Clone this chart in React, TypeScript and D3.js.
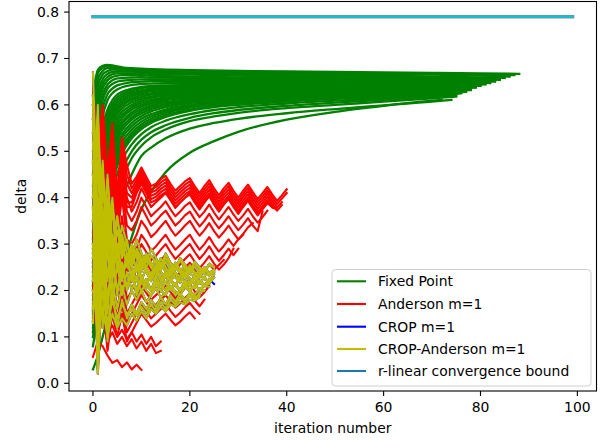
import React from "react";
import * as d3 from "d3";

// ---------- data ----------
const X_TICKS = [0, 20, 40, 60, 80, 100];
const Y_TICKS = [0.0, 0.1, 0.2, 0.3, 0.4, 0.5, 0.6, 0.7, 0.8];

// Fixed point runs: sampled iterations, each run ends at its own last iteration
const GREEN_X = [0, 1, 2, 3, 4, 5, 6, 8, 10, 12, 15, 20, 25, 30, 40, 50, 60, 70, 80, 88];
const GREEN_ENDS = [
  88, 87, 86, 85, 84, 84, 83, 83, 82, 82, 81, 81, 80, 80, 79, 79, 78, 78, 78, 77, 77, 76, 76, 75, 75, 74, 72,
  81, 80, 79, 79, 78, 78, 78, 77, 77, 76,
];
const GREEN_RUNS = [
  [0.62, 0.675, 0.684, 0.686, 0.685, 0.683, 0.681, 0.679, 0.678, 0.677, 0.676, 0.675, 0.674, 0.673, 0.672, 0.671, 0.670, 0.669, 0.668, 0.667],
  [0.60, 0.668, 0.680, 0.683, 0.683, 0.682, 0.680, 0.678, 0.677, 0.676, 0.675, 0.674, 0.673, 0.672, 0.670, 0.669, 0.668, 0.667, 0.666, 0.664],
  [0.57, 0.655, 0.673, 0.679, 0.680, 0.679, 0.678, 0.677, 0.676, 0.675, 0.674, 0.673, 0.672, 0.671, 0.669, 0.668, 0.666, 0.665, 0.663, 0.661],
  [0.54, 0.64, 0.665, 0.673, 0.676, 0.676, 0.676, 0.675, 0.674, 0.673, 0.672, 0.671, 0.670, 0.669, 0.667, 0.665, 0.663, 0.661, 0.659, 0.658],
  [0.50, 0.62, 0.655, 0.667, 0.671, 0.672, 0.672, 0.672, 0.671, 0.670, 0.669, 0.668, 0.667, 0.666, 0.664, 0.662, 0.660, 0.658, 0.656, 0.655],
  [0.475, 0.605, 0.645, 0.660, 0.666, 0.668, 0.668, 0.668, 0.668, 0.667, 0.666, 0.665, 0.664, 0.663, 0.661, 0.659, 0.658, 0.656, 0.655, 0.654],
  [0.45, 0.59, 0.635, 0.653, 0.660, 0.663, 0.664, 0.664, 0.664, 0.663, 0.662, 0.661, 0.660, 0.659, 0.658, 0.656, 0.655, 0.654, 0.653, 0.652],
  [0.425, 0.57, 0.622, 0.644, 0.653, 0.657, 0.658, 0.659, 0.660, 0.659, 0.659, 0.658, 0.657, 0.657, 0.656, 0.654, 0.653, 0.652, 0.651, 0.650],
  [0.40, 0.55, 0.61, 0.635, 0.645, 0.650, 0.652, 0.654, 0.655, 0.655, 0.655, 0.655, 0.654, 0.654, 0.653, 0.652, 0.651, 0.650, 0.649, 0.649],
  [0.375, 0.525, 0.593, 0.623, 0.635, 0.642, 0.645, 0.649, 0.650, 0.651, 0.651, 0.651, 0.651, 0.651, 0.650, 0.650, 0.649, 0.648, 0.648, 0.647],
  [0.35, 0.50, 0.575, 0.61, 0.625, 0.633, 0.638, 0.643, 0.645, 0.646, 0.647, 0.647, 0.647, 0.647, 0.647, 0.647, 0.646, 0.646, 0.646, 0.646],
  [0.325, 0.475, 0.553, 0.59, 0.61, 0.622, 0.628, 0.635, 0.639, 0.641, 0.642, 0.643, 0.644, 0.644, 0.645, 0.645, 0.645, 0.645, 0.645, 0.645],
  [0.30, 0.45, 0.53, 0.57, 0.595, 0.61, 0.618, 0.627, 0.632, 0.635, 0.637, 0.639, 0.640, 0.641, 0.642, 0.642, 0.643, 0.643, 0.643],
  [0.28, 0.425, 0.51, 0.555, 0.583, 0.599, 0.608, 0.619, 0.625, 0.629, 0.632, 0.635, 0.636, 0.638, 0.639, 0.640, 0.641, 0.641, 0.641],
  [0.26, 0.40, 0.49, 0.54, 0.57, 0.587, 0.598, 0.610, 0.617, 0.622, 0.626, 0.630, 0.632, 0.634, 0.636, 0.637, 0.638, 0.639, 0.639],
  [0.24, 0.375, 0.465, 0.52, 0.553, 0.572, 0.585, 0.600, 0.609, 0.615, 0.620, 0.625, 0.628, 0.630, 0.633, 0.634, 0.636, 0.637, 0.637],
  [0.22, 0.35, 0.44, 0.50, 0.535, 0.557, 0.572, 0.590, 0.600, 0.607, 0.613, 0.619, 0.623, 0.626, 0.629, 0.631, 0.633, 0.634, 0.635],
  [0.20, 0.325, 0.415, 0.475, 0.515, 0.541, 0.559, 0.579, 0.591, 0.599, 0.606, 0.613, 0.618, 0.621, 0.625, 0.628, 0.630, 0.632, 0.633],
  [0.18, 0.30, 0.39, 0.45, 0.495, 0.525, 0.545, 0.568, 0.582, 0.591, 0.599, 0.607, 0.612, 0.616, 0.620, 0.624, 0.627, 0.630, 0.632],
  [0.165, 0.28, 0.365, 0.425, 0.472, 0.505, 0.528, 0.554, 0.570, 0.580, 0.590, 0.600, 0.606, 0.611, 0.616, 0.620, 0.624, 0.627, 0.630],
  [0.15, 0.26, 0.34, 0.40, 0.45, 0.485, 0.51, 0.54, 0.558, 0.570, 0.582, 0.594, 0.601, 0.606, 0.612, 0.617, 0.621, 0.625, 0.628],
  [0.135, 0.24, 0.32, 0.38, 0.43, 0.468, 0.495, 0.528, 0.548, 0.561, 0.574, 0.587, 0.595, 0.600, 0.607, 0.613, 0.617, 0.622, 0.626],
  [0.12, 0.22, 0.30, 0.36, 0.41, 0.45, 0.48, 0.515, 0.537, 0.552, 0.566, 0.580, 0.589, 0.595, 0.603, 0.609, 0.614, 0.620, 0.625],
  [0.11, 0.20, 0.28, 0.34, 0.39, 0.43, 0.46, 0.50, 0.525, 0.541, 0.556, 0.572, 0.582, 0.589, 0.598, 0.605, 0.611, 0.617, 0.621],
  [0.10, 0.18, 0.26, 0.32, 0.37, 0.41, 0.44, 0.485, 0.512, 0.530, 0.547, 0.565, 0.575, 0.583, 0.593, 0.600, 0.607, 0.614, 0.618],
  [0.08, 0.15, 0.22, 0.28, 0.33, 0.37, 0.40, 0.45, 0.49, 0.508, 0.528, 0.549, 0.561, 0.570, 0.582, 0.591, 0.599, 0.607, 0.611],
  [0.03, 0.06, 0.10, 0.14, 0.18, 0.21, 0.245, 0.315, 0.375, 0.413, 0.455, 0.497, 0.522, 0.542, 0.568, 0.585, 0.598, 0.609, 0.611],
  [0.312, 0.462, 0.541, 0.58, 0.602, 0.616, 0.623, 0.631, 0.636, 0.638, 0.640, 0.641, 0.642, 0.643, 0.644, 0.644, 0.644, 0.644, 0.644, 0.644],
  [0.29, 0.437, 0.52, 0.562, 0.589, 0.605, 0.613, 0.623, 0.628, 0.632, 0.634, 0.637, 0.638, 0.639, 0.640, 0.641, 0.642, 0.642, 0.642],
  [0.27, 0.412, 0.50, 0.547, 0.577, 0.593, 0.603, 0.614, 0.621, 0.625, 0.629, 0.632, 0.634, 0.636, 0.637, 0.638, 0.639, 0.640, 0.640],
  [0.25, 0.387, 0.477, 0.53, 0.562, 0.58, 0.592, 0.605, 0.613, 0.618, 0.623, 0.627, 0.630, 0.632, 0.634, 0.636, 0.637, 0.638, 0.638],
  [0.23, 0.362, 0.452, 0.51, 0.544, 0.565, 0.578, 0.595, 0.605, 0.611, 0.616, 0.622, 0.625, 0.628, 0.631, 0.633, 0.634, 0.635, 0.636],
  [0.21, 0.337, 0.427, 0.487, 0.525, 0.549, 0.565, 0.584, 0.596, 0.603, 0.610, 0.616, 0.620, 0.624, 0.627, 0.630, 0.632, 0.633, 0.634],
  [0.19, 0.312, 0.402, 0.462, 0.505, 0.533, 0.552, 0.573, 0.587, 0.595, 0.602, 0.610, 0.615, 0.619, 0.623, 0.626, 0.629, 0.631, 0.633],
  [0.172, 0.29, 0.377, 0.437, 0.483, 0.515, 0.536, 0.561, 0.576, 0.586, 0.595, 0.604, 0.609, 0.614, 0.618, 0.622, 0.626, 0.629, 0.631],
  [0.157, 0.27, 0.352, 0.412, 0.461, 0.495, 0.519, 0.547, 0.564, 0.575, 0.586, 0.597, 0.604, 0.609, 0.614, 0.619, 0.623, 0.626, 0.629],
  [0.142, 0.25, 0.33, 0.39, 0.44, 0.476, 0.502, 0.534, 0.553, 0.565, 0.578, 0.590, 0.598, 0.603, 0.610, 0.615, 0.619, 0.624, 0.627],
];

// Anderson m=1 runs: one value per iteration starting at 0
const ANDERSON_RUNS = [
  [0.64, 0.50, 0.60, 0.45, 0.56, 0.40, 0.53, 0.47, 0.43, 0.445, 0.465, 0.445, 0.425, 0.43, 0.44, 0.447, 0.43, 0.415, 0.425, 0.435, 0.442, 0.425, 0.41, 0.425, 0.438, 0.42, 0.405, 0.42, 0.432, 0.415, 0.40, 0.415, 0.428, 0.412, 0.397, 0.41, 0.423, 0.407, 0.393, 0.405, 0.418],
  [0.63, 0.47, 0.58, 0.42, 0.54, 0.37, 0.51, 0.45, 0.42, 0.438, 0.458, 0.438, 0.418, 0.423, 0.433, 0.44, 0.423, 0.408, 0.418, 0.428, 0.435, 0.418, 0.403, 0.418, 0.431, 0.413, 0.398, 0.413, 0.425, 0.408, 0.393, 0.408, 0.421, 0.405, 0.39, 0.403, 0.416, 0.40, 0.386, 0.398, 0.41],
  [0.62, 0.44, 0.56, 0.39, 0.52, 0.35, 0.49, 0.43, 0.41, 0.431, 0.451, 0.431, 0.411, 0.416, 0.426, 0.433, 0.416, 0.401, 0.411, 0.421, 0.428, 0.411, 0.396, 0.411, 0.424, 0.406, 0.391, 0.406, 0.418, 0.401, 0.386, 0.401, 0.414, 0.398, 0.383, 0.396, 0.409, 0.393, 0.379, 0.39],
  [0.61, 0.41, 0.54, 0.36, 0.50, 0.33, 0.47, 0.41, 0.40, 0.424, 0.444, 0.424, 0.404, 0.409, 0.419, 0.426, 0.409, 0.394, 0.404, 0.414, 0.421, 0.404, 0.389, 0.404, 0.417, 0.399, 0.384, 0.399, 0.411, 0.394, 0.379, 0.394, 0.407, 0.391, 0.376, 0.389, 0.402, 0.386, 0.372, 0.384],
  [0.59, 0.38, 0.52, 0.33, 0.48, 0.31, 0.45, 0.39, 0.39, 0.417, 0.437, 0.417, 0.397, 0.402, 0.412, 0.419, 0.402, 0.387, 0.397, 0.407, 0.414, 0.397, 0.382, 0.397, 0.41, 0.392, 0.377, 0.392, 0.404, 0.387, 0.372, 0.387, 0.40, 0.384, 0.369, 0.382, 0.395, 0.379, 0.375],
  [0.58, 0.36, 0.50, 0.31, 0.46, 0.30, 0.44, 0.38, 0.38, 0.41, 0.43, 0.41, 0.39, 0.395, 0.405, 0.412, 0.395, 0.38, 0.39, 0.40, 0.407, 0.39, 0.375, 0.39, 0.403, 0.385, 0.37, 0.385, 0.397, 0.38, 0.365, 0.38, 0.393, 0.377, 0.362, 0.375, 0.388, 0.38],
  [0.60, 0.38, 0.52, 0.34, 0.47, 0.42, 0.50, 0.40, 0.37, 0.39, 0.42, 0.40, 0.38, 0.39, 0.40, 0.41, 0.395, 0.378, 0.39, 0.40, 0.41, 0.392, 0.376, 0.39, 0.405, 0.388, 0.372, 0.386, 0.40, 0.384, 0.368, 0.382, 0.396, 0.38, 0.365, 0.378, 0.392, 0.38],
  [0.57, 0.35, 0.49, 0.31, 0.44, 0.38, 0.46, 0.37, 0.35, 0.37, 0.40, 0.38, 0.36, 0.37, 0.38, 0.392, 0.375, 0.36, 0.37, 0.382, 0.39, 0.373, 0.358, 0.37, 0.385, 0.368, 0.353, 0.366, 0.38, 0.364, 0.35, 0.362, 0.376, 0.36, 0.346, 0.358, 0.372],
  [0.54, 0.32, 0.46, 0.29, 0.41, 0.35, 0.43, 0.34, 0.33, 0.35, 0.38, 0.36, 0.34, 0.35, 0.362, 0.372, 0.356, 0.34, 0.35, 0.362, 0.37, 0.353, 0.338, 0.35, 0.365, 0.348, 0.334, 0.346, 0.36, 0.344, 0.33, 0.342, 0.356, 0.34, 0.328, 0.37],
  [0.51, 0.29, 0.43, 0.27, 0.38, 0.32, 0.40, 0.31, 0.30, 0.32, 0.35, 0.335, 0.315, 0.325, 0.338, 0.35, 0.333, 0.318, 0.328, 0.34, 0.35, 0.333, 0.318, 0.33, 0.345, 0.328, 0.314, 0.326, 0.34, 0.324, 0.31, 0.322, 0.336, 0.345],
  [0.47, 0.25, 0.40, 0.23, 0.35, 0.28, 0.36, 0.27, 0.27, 0.29, 0.32, 0.305, 0.285, 0.295, 0.308, 0.32, 0.303, 0.288, 0.298, 0.31, 0.32, 0.303, 0.288, 0.30, 0.315, 0.298, 0.284, 0.296, 0.31, 0.296, 0.31, 0.32],
  [0.44, 0.22, 0.37, 0.20, 0.32, 0.25, 0.33, 0.24, 0.25, 0.27, 0.30, 0.283, 0.265, 0.275, 0.288, 0.30, 0.283, 0.268, 0.278, 0.29, 0.30, 0.283, 0.268, 0.28, 0.295, 0.278, 0.264, 0.276, 0.29, 0.276, 0.29],
  [0.41, 0.19, 0.34, 0.18, 0.29, 0.22, 0.30, 0.21, 0.22, 0.245, 0.275, 0.26, 0.243, 0.253, 0.265, 0.277, 0.26, 0.246, 0.256, 0.268, 0.278, 0.262, 0.248, 0.26, 0.274, 0.258, 0.245, 0.256, 0.27, 0.29],
  [0.38, 0.16, 0.31, 0.15, 0.26, 0.19, 0.27, 0.18, 0.20, 0.225, 0.255, 0.24, 0.224, 0.234, 0.246, 0.258, 0.242, 0.228, 0.238, 0.25, 0.26, 0.244, 0.23, 0.242, 0.256, 0.245, 0.255, 0.266],
  [0.33, 0.13, 0.27, 0.12, 0.23, 0.16, 0.22, 0.15, 0.17, 0.19, 0.21, 0.195, 0.18, 0.19, 0.20, 0.212, 0.197, 0.183, 0.193, 0.205, 0.214, 0.198, 0.185, 0.196, 0.21],
  [0.29, 0.11, 0.24, 0.10, 0.20, 0.14, 0.19, 0.13, 0.15, 0.17, 0.19, 0.175, 0.16, 0.17, 0.18, 0.19, 0.176, 0.163, 0.172, 0.184, 0.193, 0.178, 0.166, 0.18],
  [0.25, 0.09, 0.21, 0.08, 0.17, 0.12, 0.17, 0.11, 0.13, 0.15, 0.17, 0.155, 0.14, 0.15, 0.16, 0.17, 0.156, 0.143, 0.152, 0.164, 0.173, 0.16, 0.15],
  [0.21, 0.07, 0.18, 0.07, 0.15, 0.10, 0.15, 0.09, 0.11, 0.13, 0.15, 0.136, 0.122, 0.13, 0.14, 0.15, 0.137, 0.125, 0.133, 0.144, 0.153, 0.14],
  [0.23, 0.10, 0.18, 0.11, 0.125, 0.10, 0.115, 0.095, 0.11, 0.09, 0.105, 0.085, 0.10, 0.08, 0.09],
  [0.20, 0.08, 0.16, 0.09, 0.11, 0.085, 0.10, 0.08, 0.095, 0.075, 0.09, 0.07, 0.085, 0.065, 0.07],
  [0.057, 0.09, 0.08, 0.06, 0.044, 0.05, 0.035, 0.045, 0.03, 0.04, 0.029],
];

// CROP-Anderson m=1 runs: one value per iteration starting at 0
const CROP_ANDERSON_RUNS = [
  [0.67, 0.35, 0.48, 0.30, 0.40, 0.28, 0.34, 0.30, 0.27, 0.31, 0.28, 0.26, 0.29, 0.27, 0.25, 0.28, 0.26, 0.245, 0.27, 0.255, 0.24, 0.262, 0.25, 0.24, 0.258, 0.25],
  [0.60, 0.25, 0.42, 0.33, 0.27, 0.36, 0.29, 0.26, 0.30, 0.27, 0.25, 0.28, 0.26, 0.24, 0.27, 0.25, 0.235, 0.26, 0.245, 0.232, 0.255, 0.24, 0.23, 0.25, 0.238, 0.245],
  [0.52, 0.15, 0.38, 0.22, 0.32, 0.26, 0.23, 0.28, 0.25, 0.22, 0.26, 0.24, 0.22, 0.25, 0.23, 0.215, 0.24, 0.228, 0.218, 0.24, 0.226, 0.215, 0.235, 0.224, 0.22, 0.235],
  [0.45, 0.05, 0.30, 0.18, 0.27, 0.20, 0.25, 0.21, 0.24, 0.20, 0.23, 0.21, 0.20, 0.23, 0.21, 0.20, 0.225, 0.21, 0.20, 0.222, 0.21, 0.205, 0.222, 0.212, 0.22],
  [0.38, 0.02, 0.25, 0.10, 0.22, 0.16, 0.21, 0.17, 0.20, 0.18, 0.20, 0.175, 0.19, 0.205, 0.185, 0.195, 0.21, 0.19, 0.20, 0.215, 0.20, 0.208, 0.22, 0.21, 0.215],
  [0.30, 0.08, 0.20, 0.13, 0.18, 0.14, 0.17, 0.15, 0.16, 0.145, 0.165, 0.15, 0.17, 0.155, 0.175, 0.16, 0.18, 0.17, 0.185, 0.175, 0.19, 0.18, 0.195, 0.20],
  [0.20, 0.12, 0.16, 0.10, 0.15, 0.12, 0.14, 0.125, 0.15, 0.135, 0.155, 0.14, 0.16, 0.15, 0.165, 0.155, 0.17, 0.165, 0.175, 0.17, 0.18, 0.178, 0.186],
  [0.13, 0.40, 0.25, 0.45, 0.30, 0.27, 0.32, 0.28, 0.26, 0.29, 0.27, 0.25, 0.275, 0.26, 0.25, 0.27, 0.255, 0.245, 0.265, 0.25, 0.242, 0.26, 0.248, 0.24, 0.255, 0.25],
  [0.22, 0.55, 0.30, 0.40, 0.26, 0.33, 0.28, 0.30, 0.26, 0.28, 0.24, 0.27, 0.25, 0.23, 0.26, 0.24, 0.23, 0.25, 0.238, 0.228, 0.248, 0.236, 0.228, 0.245, 0.235, 0.24],
  [0.35, 0.60, 0.28, 0.36, 0.22, 0.30, 0.24, 0.27, 0.22, 0.25, 0.23, 0.21, 0.24, 0.22, 0.21, 0.235, 0.22, 0.21, 0.23, 0.218, 0.21, 0.228, 0.218, 0.21, 0.225],
  [0.48, 0.20, 0.45, 0.27, 0.38, 0.24, 0.31, 0.25, 0.29, 0.24, 0.27, 0.25, 0.23, 0.255, 0.24, 0.228, 0.25, 0.238, 0.23, 0.248, 0.236, 0.23, 0.246, 0.236, 0.232, 0.242],
  [0.57, 0.10, 0.35, 0.15, 0.29, 0.19, 0.26, 0.20, 0.24, 0.19, 0.22, 0.20, 0.19, 0.215, 0.20, 0.19, 0.21, 0.198, 0.19, 0.208, 0.198, 0.19, 0.205, 0.20],
  [0.40, 0.58, 0.32, 0.44, 0.28, 0.36, 0.27, 0.31, 0.25, 0.285, 0.26, 0.275, 0.25, 0.265, 0.245, 0.262, 0.243, 0.258, 0.24, 0.255, 0.238, 0.252, 0.236, 0.25, 0.235, 0.245],
  [0.27, 0.48, 0.22, 0.38, 0.24, 0.30, 0.22, 0.27, 0.23, 0.26, 0.22, 0.25, 0.225, 0.245, 0.22, 0.24, 0.218, 0.238, 0.216, 0.236, 0.215, 0.233, 0.214, 0.23, 0.215, 0.228],
  [0.16, 0.35, 0.12, 0.30, 0.17, 0.26, 0.19, 0.24, 0.20, 0.23, 0.195, 0.225, 0.20, 0.22, 0.198, 0.218, 0.20, 0.216, 0.20, 0.214, 0.20, 0.212, 0.202, 0.21, 0.208],
  [0.62, 0.03, 0.28, 0.09, 0.20, 0.12, 0.18, 0.14, 0.17, 0.15, 0.175, 0.16, 0.18, 0.165, 0.185, 0.17, 0.19, 0.176, 0.193, 0.18, 0.195, 0.185, 0.19],
];

// CROP m=1 runs coincide with CROP-Anderson runs; only a short tail shows past them
const CROP_RUNS = CROP_ANDERSON_RUNS;
const CROP_TAIL_X = [23, 24, 25];
const CROP_TAIL_Y = [0.212, 0.224, 0.214];

// r-linear convergence bound
const BOUND_X = [0, 99];
const BOUND_Y = [0.79, 0.79];

const LEGEND_LABELS = ["Fixed Point", "Anderson m=1", "CROP m=1", "CROP-Anderson m=1", "r-linear convergence bound"];
const LEGEND_COLORS = ["#008000", "#ff0000", "#0000ff", "#bfbf00", "#1f77b4"];

// ---------- layout ----------
const W = 600;
const H = 441;
const PL = 69, PR = 596.5, PT = 1.5, PB = 391;
const FONT = "DejaVu Sans, sans-serif";

export default function App() {
  const x = d3.scaleLinear().domain([-4.95, 103.95]).range([PL, PR]);
  const y = d3.scaleLinear().domain([-0.0166, 0.8228]).range([PB, PT]);

  const lin = d3.line<[number, number]>().x((d) => x(d[0])).y((d) => y(d[1]));
  const smooth = d3
    .line<[number, number]>()
    .x((d) => x(d[0]))
    .y((d) => y(d[1]))
    .curve(d3.curveMonotoneX);

  const greenPaths = GREEN_RUNS.map((vals, k) => {
    const end = GREEN_ENDS[k];
    const xs = GREEN_X.filter((g) => g < end).slice(0, vals.length - 1).concat([end]);
    return smooth(vals.map((v, i) => [xs[i], v] as [number, number])) || "";
  });
  const perIter = (vals: number[]) => lin(vals.map((v, i) => [i, v] as [number, number])) || "";
  const boundPath = lin(BOUND_X.map((v, i) => [v, BOUND_Y[i]] as [number, number])) || "";

  const tickLen = 4.9;
  const legX = 332, legY = 269.5, legW = 259, legH = 116.5;
  const rowY = [281.3, 304, 326.7, 349, 371];
  const SW = 2.1;

  return (
    <svg
      width={W}
      height={H}
      style={{ position: "absolute", left: 0, top: 0, background: "#fff" }}
      fontFamily={FONT}
    >
      <rect x={0} y={0} width={W} height={H} fill="#fff" />
      <defs>
        <clipPath id="plot">
          <rect x={PL} y={PT} width={PR - PL} height={PB - PT} />
        </clipPath>
      </defs>
      <g clipPath="url(#plot)" fill="none" strokeLinejoin="round" strokeLinecap="square">
        {greenPaths.map((d, i) => (
          <path key={"g" + i} d={d} stroke="#008000" strokeWidth={2.3} />
        ))}
        {ANDERSON_RUNS.map((r, i) => (
          <path key={"r" + i} d={perIter(r)} stroke="#ff0000" strokeWidth={SW} />
        ))}
        {CROP_RUNS.map((r, i) => (
          <path key={"b" + i} d={perIter(r)} stroke="#0000ff" strokeWidth={SW} />
        ))}
        <path
          d={lin(CROP_TAIL_X.map((v, i) => [v, CROP_TAIL_Y[i]] as [number, number])) || ""}
          stroke="#0000ff"
          strokeWidth={SW}
        />
        {CROP_ANDERSON_RUNS.map((r, i) => (
          <path key={"y" + i} d={perIter(r)} stroke="#bfbf00" strokeWidth={SW} />
        ))}
        <path d={boundPath} stroke="#8a8a8a" strokeWidth={3.6} />
        <path d={boundPath} stroke="#17becf" strokeWidth={2.4} />
      </g>

      {/* frame */}
      <rect x={PL} y={PT} width={PR - PL} height={PB - PT} fill="none" stroke="#000" strokeWidth={1.1} />

      {/* x ticks */}
      {X_TICKS.map((t) => (
        <g key={"xt" + t}>
          <line x1={x(t)} x2={x(t)} y1={PB} y2={PB + tickLen} stroke="#000" strokeWidth={1.1} />
          <text x={x(t)} y={PB + 21} fontSize={13.9} textAnchor="middle" fill="#000">
            {t}
          </text>
        </g>
      ))}
      {/* y ticks */}
      {Y_TICKS.map((t) => (
        <g key={"yt" + t}>
          <line x1={PL - tickLen} x2={PL} y1={y(t)} y2={y(t)} stroke="#000" strokeWidth={1.1} />
          <text x={PL - 10} y={y(t) + 5} fontSize={13.9} textAnchor="end" fill="#000">
            {t.toFixed(1)}
          </text>
        </g>
      ))}

      <text x={(PL + PR) / 2} y={433} fontSize={13.9} textAnchor="middle" fill="#000">
        iteration number
      </text>
      <text
        transform={`translate(26,${(PT + PB) / 2}) rotate(-90)`}
        fontSize={13.9}
        textAnchor="middle"
        fill="#000"
      >
        delta
      </text>

      {/* legend */}
      <rect
        x={legX}
        y={legY}
        width={legW}
        height={legH}
        rx={3.5}
        fill="#fff"
        fillOpacity={0.8}
        stroke="#d0d0d0"
        strokeWidth={1}
      />
      {LEGEND_LABELS.map((lab, i) => (
        <g key={"lg" + i}>
          <line x1={337} x2={366} y1={rowY[i]} y2={rowY[i]} stroke={LEGEND_COLORS[i]} strokeWidth={SW} />
          <text x={378} y={rowY[i] + 5} fontSize={13.9} fill="#000">
            {lab}
          </text>
        </g>
      ))}
    </svg>
  );
}
